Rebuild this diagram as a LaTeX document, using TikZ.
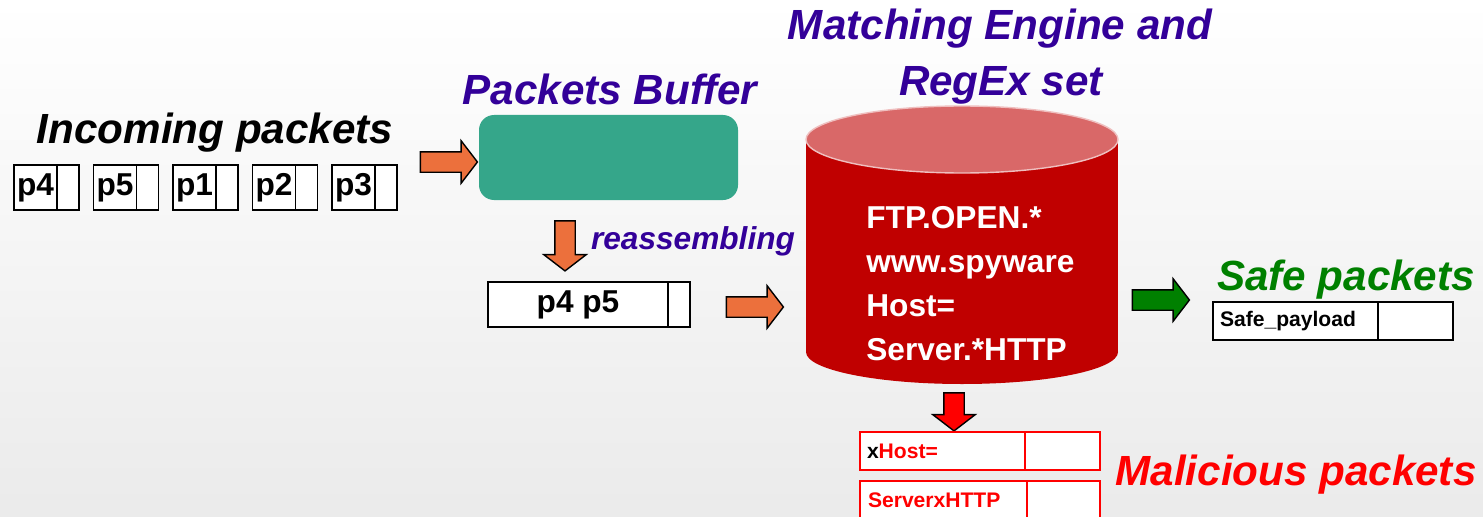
\documentclass[tikz,border=0pt]{standalone}
\usepackage{fontspec}
\setmainfont{Liberation Sans}
\usetikzlibrary{positioning,shapes.arrows}

\definecolor{titlepurple}{RGB}{51,0,153}
\definecolor{arroworange}{RGB}{236,112,60}
\definecolor{buffergreen}{RGB}{53,166,138}
\definecolor{safegreen}{RGB}{0,128,0}
\definecolor{enginered}{RGB}{192,0,0}
\definecolor{enginetop}{RGB}{217,104,104}

\begin{document}
\begin{tikzpicture}[x=0.2mm,y=-0.2mm,
  title/.style={font=\fontsize{24}{28}\selectfont\bfseries\itshape,inner sep=0pt,anchor=base},
  pktlabel/.style={draw,fill=white,line width=1pt,outer sep=0pt,minimum width=0.86cm,minimum height=0.9cm,inner sep=0pt,font=\fontsize{18}{20}\selectfont\bfseries},
  pkttail/.style={draw,fill=white,line width=1pt,outer sep=0pt,minimum width=0.44cm,minimum height=0.9cm,inner sep=0pt},
  smalllabel/.style={pktlabel,minimum width=3.3cm,minimum height=0.76cm,inner xsep=0.14cm,text width=3.02cm,align=left,font=\fontsize{12}{14}\selectfont\bfseries},
  smalltail/.style={pkttail,minimum width=1.5cm,minimum height=0.76cm},
  blockarrow/.style={single arrow,draw=black,line width=0.8pt,fill=arroworange,inner xsep=0pt,inner ysep=0.19cm,
    minimum height=1.14cm,minimum width=0.82cm,single arrow head extend=0.22cm,single arrow tip angle=105},
  rules/.style={text=white,align=left,inner sep=0pt,font=\fontsize{18}{25}\selectfont\bfseries}
]
\useasboundingbox (0,0) rectangle (1483,516);
\shade[top color=white,bottom color=black!8] (0,0) rectangle (1483,516);

% Incoming packets
\node[title] (incoming) at (215,143) {Incoming packets};
\node[pktlabel,anchor=west] (p4) at (14,187.5) {p4};
\node[pkttail,right=0pt of p4] (p4e) {};
\node[pktlabel,right=0.29cm of p4e] (p5) {p5};
\node[pkttail,right=0pt of p5] (p5e) {};
\node[pktlabel,right=0.29cm of p5e] (p1) {p1};
\node[pkttail,right=0pt of p1] (p1e) {};
\node[pktlabel,right=0.29cm of p1e] (p2) {p2};
\node[pkttail,right=0pt of p2] (p2e) {};
\node[pktlabel,right=0.29cm of p2e] (p3) {p3};
\node[pkttail,right=0pt of p3] (p3e) {};

% Buffer and reassembly
\node[blockarrow] (inarrow) at (445,162) {};
\node[title,text=titlepurple] (buffertitle) at (610,105) {Packets Buffer};
\node[fill=buffergreen,rounded corners=0.3cm,minimum width=5.18cm,minimum height=1.7cm] (buffer) at (608.5,157.5) {};
\node[blockarrow,rotate=-90,minimum height=1.0cm] (reasmarrow) at (565,242) {};
\node[title,text=titlepurple,font=\fontsize{18}{20}\selectfont\bfseries\itshape] (reassembling) at (693,249) {reassembling};
\node[pktlabel,anchor=west,minimum width=3.6cm] (p45) at (488,304.5) {p4 p5};
\node[pkttail,right=0pt of p45] (p45e) {};
\node[blockarrow] (outarrow) at (751,307) {};

% Matching engine
\node[title,text=titlepurple] (enginetitle) at (1000,40) {Matching Engine and};
\node[title,text=titlepurple] (regextitle) at (1001,96) {RegEx set};
\fill[enginered] (806,139.5) rectangle (1118,352);
\fill[enginered] (962,352) ellipse[x radius=156,y radius=32];
\filldraw[fill=enginetop,draw=white!75!enginered,line width=0.8pt] (962,139.5) ellipse[x radius=156,y radius=33.5];
\node[rules,anchor=west] (regex) at (866,284) {FTP.OPEN.*\\www.spyware\\Host=\\Server.*HTTP};

% Safe packets
\node[blockarrow,fill=safegreen] (safearrow) at (1157,300) {};
\node[title,text=safegreen] (safetitle) at (1346,290) {Safe packets};
\node[smalllabel,anchor=west] (safe) at (1213,321) {Safe\_payload};
\node[smalltail,right=0pt of safe] (safee) {};

% Malicious packets
\node[blockarrow,fill=red,rotate=-90,minimum height=0.76cm] (malarrow) at (954,408) {};
\node[smalllabel,draw=red,text=red,anchor=west] (host) at (860,451) {\textcolor{black}{x}Host=};
\node[smalltail,draw=red,right=0pt of host] (hoste) {};
\node[smalllabel,draw=red,text=red,anchor=west,minimum width=3.34cm] (server) at (860,500) {ServerxHTTP};
\node[smalltail,draw=red,right=0pt of server,minimum width=1.46cm] (servere) {};
\node[title,text=red] (maltitle) at (1296,485) {Malicious packets};

\end{tikzpicture}
\end{document}
